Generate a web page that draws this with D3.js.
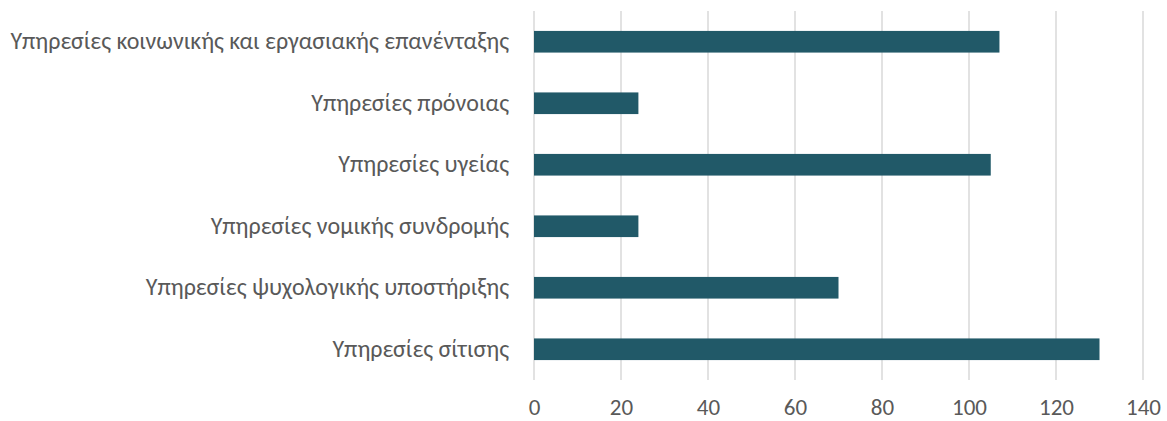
<!DOCTYPE html>
<html><head><meta charset="utf-8">
<script src="https://cdn.jsdelivr.net/npm/d3@7"></script>
<style>body{margin:0;background:#fff}svg{display:block}</style>
</head><body>
<script>
const categories = [
  "Υπηρεσίες κοινωνικής και εργασιακής επανένταξης",
  "Υπηρεσίες πρόνοιας",
  "Υπηρεσίες υγείας",
  "Υπηρεσίες νομικής συνδρομής",
  "Υπηρεσίες ψυχολογικής υποστήριξης",
  "Υπηρεσίες σίτισης"
];
const values = [107, 24, 105, 24, 70, 130];
const xTicks = [0, 20, 40, 60, 80, 100, 120, 140];

const W = 1167, H = 421;
const m = {left: 534, right: 24, top: 11, bottom: 41};
const svg = d3.select("body").append("svg").attr("width", W).attr("height", H);
const font = "Carlito, Calibri, Lato, sans-serif";

const x = d3.scaleLinear().domain([0, 140]).range([m.left, W - m.right]);
const y = d3.scaleBand().domain(categories).range([m.top, H - m.bottom]).padding(0);
const barH = y.bandwidth() * 0.352;

// gridlines
svg.append("g").selectAll("line").data(xTicks).join("line")
  .attr("x1", d => x(d)).attr("x2", d => x(d))
  .attr("y1", m.top).attr("y2", H - m.bottom)
  .attr("stroke", "#d9d9d9").attr("stroke-width", 1.5);

// bars
svg.append("g").selectAll("rect").data(values).join("rect")
  .attr("x", x(0))
  .attr("y", (d, i) => y(categories[i]) + y.bandwidth() / 2 - barH / 2)
  .attr("width", d => x(d) - x(0))
  .attr("height", barH)
  .attr("fill", "#215968");

// x axis
const xa = svg.append("g").attr("transform", `translate(0,${H - m.bottom})`)
  .call(d3.axisBottom(x).tickValues(xTicks).tickSize(0).tickPadding(19));
xa.select(".domain").remove();
xa.selectAll("text").attr("fill", "#595959").style("font-size", "23px").style("font-family", font);

// y axis
const ya = svg.append("g").attr("transform", `translate(${m.left},0)`)
  .call(d3.axisLeft(y).tickSize(0).tickPadding(25));
ya.select(".domain").remove();
ya.selectAll("text").attr("fill", "#595959").style("font-size", "24px").style("font-family", font);
</script>
</body></html>
